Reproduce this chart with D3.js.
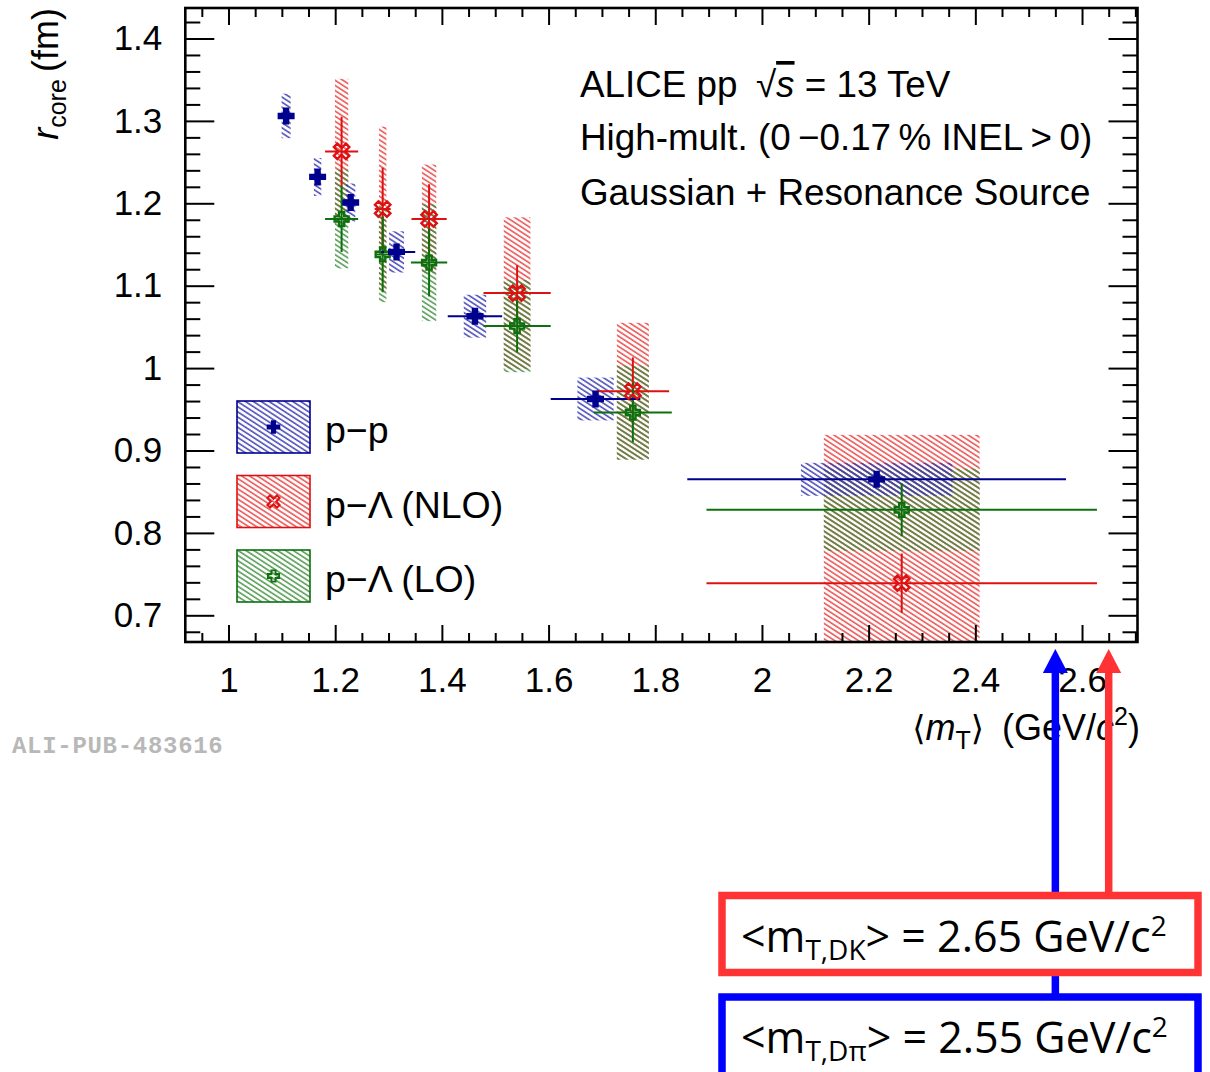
<!DOCTYPE html>
<html><head><meta charset="utf-8">
<script src="https://cdn.jsdelivr.net/npm/d3@7"></script>
<style>body{margin:0;background:#fff}</style>
</head><body>
<svg id="c" width="1210" height="1072"></svg>
<script>
// ---------------- data ----------------
const ppX      = [1.108, 1.167, 1.229, 1.315, 1.462, 1.688, 2.215];
const ppY      = [1.306, 1.232, 1.201, 1.141, 1.063, 0.9625, 0.865];
const ppStatY  = [0.005, 0.005, 0.005, 0.006, 0.006, 0.006, 0.006];
const ppStatX  = [0.006, 0.006, 0.006, 0.035, 0.051, 0.084, 0.355];
const ppSystY  = [0.027, 0.023, 0.023, 0.025, 0.026, 0.026, 0.020];
const ppSystX  = [0.0085, 0.007, 0.0087, 0.014, 0.021, 0.034, 0.142];

const plX      = [1.212, 1.289, 1.376, 1.541, 1.758, 2.262];
const nloY     = [1.263, 1.193, 1.181, 1.091, 0.972, 0.739];
const nloStatY = [0.042, 0.050, 0.042, 0.034, 0.041, 0.036];
const nloStatX = [0.031, 0.015, 0.033, 0.063, 0.068, 0.366];
const nloSystY = [0.088, 0.100, 0.066, 0.092, 0.083, 0.180];
const plSystX  = [0.0125, 0.007, 0.0135, 0.025, 0.030, 0.146];

const loY      = [1.181, 1.138, 1.128, 1.051, 0.946, 0.828];
const loStatY  = [0.040, 0.046, 0.041, 0.032, 0.036, 0.032];
const loStatX  = [0.031, 0.012, 0.034, 0.063, 0.073, 0.366];
const loSystY  = [0.060, 0.058, 0.071, 0.056, 0.057, 0.050];

const xTicks = [1, 1.2, 1.4, 1.6, 1.8, 2, 2.2, 2.4, 2.6];
const xTickLabels = ["1", "1.2", "1.4", "1.6", "1.8", "2", "2.2", "2.4", "2.6"];
const yTicks = [0.7, 0.8, 0.9, 1, 1.1, 1.2, 1.3, 1.4];
const yTickLabels = ["0.7", "0.8", "0.9", "1", "1.1", "1.2", "1.3", "1.4"];
const legendLabels = ["p\u2212p", "p\u2212\u039B (NLO)", "p\u2212\u039B (LO)"];
const mTDK = 2.65, mTDpi = 2.55;

// ---------------- setup ----------------
const svg = d3.select("#c");
svg.append("rect").attr("width", 1210).attr("height", 1072).attr("fill", "#fff");
const F = {l: 185.3, r: 1137.5, t: 8, b: 642};
const x = d3.scaleLinear().domain([0.919, 2.704]).range([F.l, F.r]);
const y = d3.scaleLinear().domain([0.6676, 1.437]).range([F.b, F.t]);

const C = {
  blue: "#00008f", blueH: "#3a3ab4",
  red: "#dd1111", redH: "#ea5555",
  green: "#0d700d", greenH: "#3a8a3a"
};
const defs = svg.append("defs");
defs.append("clipPath").attr("id", "clip").append("rect")
  .attr("x", F.l).attr("y", F.t).attr("width", F.r - F.l).attr("height", F.b - F.t);
function hatch(id, color, op) {
  const p = defs.append("pattern").attr("id", id).attr("patternUnits", "userSpaceOnUse")
    .attr("width", 10).attr("height", 4.3).attr("patternTransform", "rotate(33)");
  p.append("line").attr("x1", -1).attr("x2", 11).attr("y1", 1).attr("y2", 1)
    .attr("stroke", color).attr("stroke-width", 1.6).attr("stroke-opacity", op);
}
hatch("hB", C.blueH, 0.9);
hatch("hR", C.redH, 1);
hatch("hG", C.greenH, 0.85);

const font = "'Liberation Sans', Arial, Helvetica, sans-serif";

// ---------------- systematic boxes ----------------
const plot = svg.append("g").attr("clip-path", "url(#clip)");
function boxes(xs, ys, sx, sy, pat) {
  plot.append("g").selectAll("rect").data(xs).join("rect")
    .attr("x", (d, i) => x(d - sx[i]))
    .attr("width", (d, i) => x(d + sx[i]) - x(d - sx[i]))
    .attr("y", (d, i) => y(ys[i] + sy[i]))
    .attr("height", (d, i) => y(ys[i] - sy[i]) - y(ys[i] + sy[i]))
    .attr("fill", `url(#${pat})`);
}
boxes(plX, nloY, plSystX, nloSystY, "hR");
boxes(plX, loY, plSystX, loSystY, "hG");
boxes(ppX, ppY, ppSystX, ppSystY, "hB");

// ---------------- stat error bars ----------------
function bars(xs, ys, ex, ey, col) {
  const g = plot.append("g").attr("stroke", col).attr("stroke-width", 2);
  g.selectAll("line.h").data(xs).join("line").attr("class", "h")
    .attr("x1", (d, i) => x(d - ex[i])).attr("x2", (d, i) => x(d + ex[i]))
    .attr("y1", (d, i) => y(ys[i])).attr("y2", (d, i) => y(ys[i]));
  g.selectAll("line.v").data(xs).join("line").attr("class", "v")
    .attr("x1", d => x(d)).attr("x2", d => x(d))
    .attr("y1", (d, i) => y(ys[i] - ey[i])).attr("y2", (d, i) => y(ys[i] + ey[i]));
}
bars(plX, nloY, nloStatX, nloStatY, C.red);
bars(plX, loY, loStatX, loStatY, C.green);
bars(ppX, ppY, ppStatX, ppStatY, C.blue);

// ---------------- markers ----------------
function plusPath(s, a) {
  return `M${-a},${-s}H${a}V${-a}H${s}V${a}H${a}V${s}H${-a}V${a}H${-s}V${-a}H${-a}Z`;
}
const mk = {
  pp: g => g.append("path").attr("d", plusPath(8.5, 3.2)).attr("fill", C.blue),
  nlo: g => g.append("path").attr("d", plusPath(8.5, 2.4)).attr("transform", "rotate(45)")
            .attr("fill", "none").attr("stroke", C.red).attr("stroke-width", 2.4),
  lo: g => g.append("path").attr("d", plusPath(7, 2.6))
            .attr("fill", "none").attr("stroke", C.green).attr("stroke-width", 2.4)
};
function markers(xs, ys, fn) {
  xs.forEach((d, i) => fn(plot.append("g").attr("transform", `translate(${x(d)},${y(ys[i])})`)));
}
markers(plX, nloY, mk.nlo);
markers(plX, loY, mk.lo);
markers(ppX, ppY, mk.pp);

// ---------------- axes ----------------
const xMinor = d3.range(19, 55).map(k => +(k * 0.05).toFixed(2)).filter(v => v > 0.919 && v < 2.704 && !xTicks.some(t => Math.abs(t - v) < 1e-6));
const yMinor = d3.range(34, 72).map(k => +(k * 0.02).toFixed(2)).filter(v => v > 0.6676 && v < 1.437 && !yTicks.some(t => Math.abs(t - v) < 1e-6));

function styleAxis(g) {
  g.select(".domain").remove();
  g.selectAll(".tick line").attr("stroke", "#000").attr("stroke-width", 2);
  g.selectAll("text").attr("font-family", font).attr("font-size", 35).attr("fill", "#000");
}
const xl = (d, i) => xTickLabels[i];
const yl = (d, i) => yTickLabels[i];
svg.append("g").attr("transform", `translate(0,${F.b})`)
  .call(d3.axisBottom(x).tickValues(xTicks).tickFormat(xl).tickSize(-17).tickPadding(25)).call(styleAxis);
svg.append("g").attr("transform", `translate(0,${F.b})`)
  .call(d3.axisBottom(x).tickValues(xMinor).tickFormat("").tickSize(-9)).call(styleAxis);
svg.append("g").attr("transform", `translate(0,${F.t})`)
  .call(d3.axisTop(x).tickValues(xTicks).tickFormat("").tickSize(-17)).call(styleAxis);
svg.append("g").attr("transform", `translate(0,${F.t})`)
  .call(d3.axisTop(x).tickValues(xMinor).tickFormat("").tickSize(-9)).call(styleAxis);
svg.append("g").attr("transform", `translate(${F.l},0)`)
  .call(d3.axisLeft(y).tickValues(yTicks).tickFormat(yl).tickSize(-29).tickPadding(23)).call(styleAxis);
svg.append("g").attr("transform", `translate(${F.l},0)`)
  .call(d3.axisLeft(y).tickValues(yMinor).tickFormat("").tickSize(-15)).call(styleAxis);
svg.append("g").attr("transform", `translate(${F.r},0)`)
  .call(d3.axisRight(y).tickValues(yTicks).tickFormat("").tickSize(-29)).call(styleAxis);
svg.append("g").attr("transform", `translate(${F.r},0)`)
  .call(d3.axisRight(y).tickValues(yMinor).tickFormat("").tickSize(-15)).call(styleAxis);

svg.append("rect").attr("x", F.l).attr("y", F.t).attr("width", F.r - F.l).attr("height", F.b - F.t)
  .attr("fill", "none").attr("stroke", "#000").attr("stroke-width", 2.6);

// axis titles
const yt = svg.append("text").attr("transform", `translate(58,${F.t}) rotate(-90)`)
  .attr("text-anchor", "end").attr("font-family", font).attr("font-size", 36);
yt.append("tspan").attr("font-style", "italic").text("r");
yt.append("tspan").attr("font-size", 25).attr("dy", 8).text("core");
yt.append("tspan").attr("dy", -8).text("\u2009(fm)");

const xt = svg.append("text").attr("x", 1140).attr("y", 740)
  .attr("text-anchor", "end").attr("font-family", font).attr("font-size", 36);
xt.append("tspan").attr("font-family", "'DejaVu Sans', sans-serif").attr("font-size", 34).text("\u27E8");
xt.append("tspan").attr("font-style", "italic").text("m");
xt.append("tspan").attr("font-size", 25).attr("dy", 9).text("T");
xt.append("tspan").attr("dy", -9).attr("font-family", "'DejaVu Sans', sans-serif").attr("font-size", 34).text("\u27E9");
xt.append("tspan").text("\u2002(GeV/");
xt.append("tspan").attr("font-style", "italic").text("c");
xt.append("tspan").attr("font-size", 25).attr("dy", -15).text("2");
xt.append("tspan").attr("dy", 15).text(")");

// ---------------- header text ----------------
const hdr = svg.append("g").attr("font-family", font).attr("font-size", 36.8).attr("fill", "#000");
const t1 = hdr.append("text").attr("x", 580).attr("y", 97);
t1.append("tspan").text("ALICE pp\u2002\u221A");
t1.append("tspan").attr("font-style", "italic").style("text-decoration", "overline").text("s");
t1.append("tspan").text(" = 13 TeV");
hdr.append("text").attr("x", 580).attr("y", 150).text("High-mult. (0\u2009\u22120.17\u2009% INEL\u2009>\u20090)");
hdr.append("text").attr("x", 580).attr("y", 205).text("Gaussian + Resonance Source");

// ---------------- legend ----------------
const legPats = ["hB", "hR", "hG"];
const legCols = [C.blue, C.red, C.green];
const legMk = [mk.pp, mk.nlo, mk.lo];
const legTop = [401, 475.5, 550];
legendLabels.forEach((lab, i) => {
  const g = svg.append("g");
  g.append("rect").attr("x", 237).attr("y", legTop[i]).attr("width", 73).attr("height", 52)
    .attr("fill", `url(#${legPats[i]})`).attr("stroke", legCols[i]).attr("stroke-width", 1.6);
  legMk[i](g.append("g").attr("transform", `translate(273.5,${legTop[i] + 26}) scale(0.8)`));
  g.append("text").attr("x", 325).attr("y", legTop[i] + 42).attr("font-family", font)
    .attr("font-size", 37.5).text(lab);
});

// watermark
svg.append("text").attr("x", 12).attr("y", 753).attr("font-family", "'Liberation Mono', 'DejaVu Sans Mono', monospace")
  .attr("font-weight", "bold").attr("font-size", 24).attr("letter-spacing", 0.7).attr("fill", "#b8b8b8").text("ALI-PUB-483616");

// ---------------- annotations ----------------
const ann = svg.append("g");
function arrow(xv, bottom, col) {
  const X = x(xv);
  ann.append("line").attr("x1", X).attr("x2", X).attr("y1", 670).attr("y2", bottom)
    .attr("stroke", col).attr("stroke-width", 7.5);
  ann.append("path").attr("d", `M${X},649 L${X + 12.5},673 L${X - 12.5},673 Z`).attr("fill", col);
}
arrow(mTDpi, 1000, "#0000ff");
arrow(mTDK, 895, "#ff3333");
function box(yTop, h, col, sub, val) {
  ann.append("rect").attr("x", 722).attr("y", yTop).attr("width", 476).attr("height", h)
    .attr("fill", "#fff").attr("stroke", col).attr("stroke-width", 7.5);
  const t = ann.append("text").attr("x", 741).attr("y", yTop + 56)
    .attr("font-family", "'Open Sans', 'Noto Sans', sans-serif").attr("font-size", 43).attr("fill", "#000");
  t.append("tspan").text("<m");
  t.append("tspan").attr("font-size", 28).attr("dy", 8).text(sub);
  t.append("tspan").attr("dy", -8).text("> = " + val + " GeV/c");
  t.append("tspan").attr("font-size", 28).attr("dy", -16).text("2");
}
box(895.5, 77, "#ff3333", "T,DK", mTDK.toFixed(2));
box(997, 100, "#0000ff", "T,D\u03C0", mTDpi.toFixed(2));
</script>
</body></html>
